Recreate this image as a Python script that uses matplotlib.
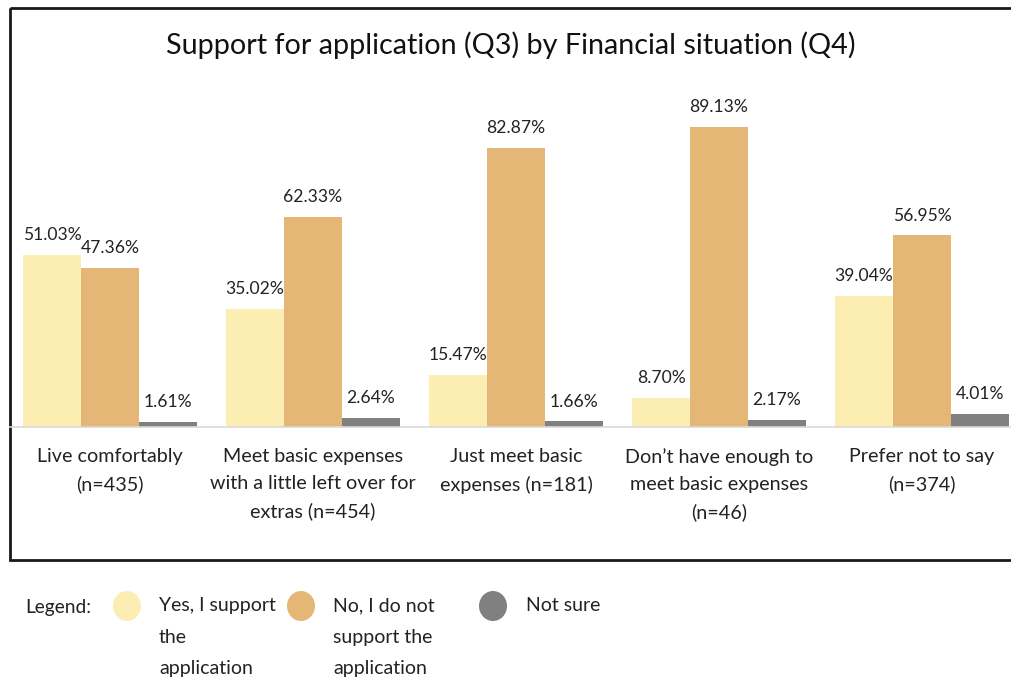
import matplotlib
matplotlib.use("Agg")
import matplotlib.pyplot as plt
from matplotlib.patches import Ellipse, Rectangle
import numpy as np

plt.rcParams['font.family'] = ['Lato', 'DejaVu Sans']

title = "Support for application (Q3) by Financial situation (Q4)"
categories = [
    "Live comfortably\n(n=435)",
    "Meet basic expenses\nwith a little left over for\nextras (n=454)",
    "Just meet basic\nexpenses (n=181)",
    "Don\u2019t have enough to\nmeet basic expenses\n(n=46)",
    "Prefer not to say\n(n=374)",
]
series_names = [
    "Yes, I support\nthe\napplication",
    "No, I do not\nsupport the\napplication",
    "Not sure",
]
yes_support = [51.03, 35.02, 15.47, 8.70, 39.04]
no_support = [47.36, 62.33, 82.87, 89.13, 56.95]
not_sure = [1.61, 2.64, 1.66, 2.17, 4.01]
colors = ["#FCEDB3", "#E4B777", "#808080"]
text_color = "#222222"

W, H = 1011, 680
fig = plt.figure(figsize=(W / 100, H / 100), dpi=100)

# full-figure overlay in pixel units for the frame and legend
over = fig.add_axes([0, 0, 1, 1], zorder=0)
over.set_xlim(0, W)
over.set_ylim(H, 0)
over.axis("off")
over.add_patch(Rectangle((10, 8), 1100, 552, fill=False, edgecolor="#1a1a1a", linewidth=2.0))

# plotting area: baseline at y=427 px, top at y=60 px
base_px, top_px = 427, 60
px_per_pct = 300 / 89.13
ax = fig.add_axes([10 / W, (H - base_px) / H, 1 - 10 / W, (base_px - top_px) / H], zorder=1)
ax.patch.set_alpha(0)
group_px = 203
first_center = 110
ax.set_xlim((10 - first_center) / group_px, (W - first_center) / group_px)
ax.set_ylim(0, (base_px - top_px) / px_per_pct)

x = np.arange(len(categories))
bw = 58 / group_px
for k, vals in enumerate([yes_support, no_support, not_sure]):
    pos = x + (k - 1) * bw
    ax.bar(pos, vals, width=bw, color=colors[k], linewidth=0)
    for xp, v in zip(pos, vals):
        ax.annotate(f"{v:.2f}%", (xp, v), xytext=(0, 8.5), textcoords="offset points",
                    ha="center", va="bottom", fontsize=12.6, color=text_color)

for s in ["top", "right", "left"]:
    ax.spines[s].set_visible(False)
ax.spines["bottom"].set_color("#D9D9D9")
ax.spines["bottom"].set_linewidth(1.2)
ax.set_yticks([])
ax.set_xticks(x)
ax.set_xticklabels(categories, fontsize=14.2, color=text_color, linespacing=1.72)
ax.tick_params(axis="x", length=0, pad=15)

fig.text(0.5 + 5 / W, 1 - 45 / H, title, ha="center", va="center", fontsize=20.7, color="#111111")

# legend
over.text(25, 607, "Legend:", ha="left", va="center", fontsize=13.8, color=text_color)
marker_x = [127, 301, 493]
text_x = [159, 333, 526]
for mx, tx, c, name in zip(marker_x, text_x, colors, series_names):
    over.add_patch(Ellipse((mx, 606), 28, 30, color=c, linewidth=0))
    over.text(tx, 597, name, ha="left", va="top", fontsize=14, color=text_color, linespacing=2.05)

fig.savefig("out.png", dpi=100)
